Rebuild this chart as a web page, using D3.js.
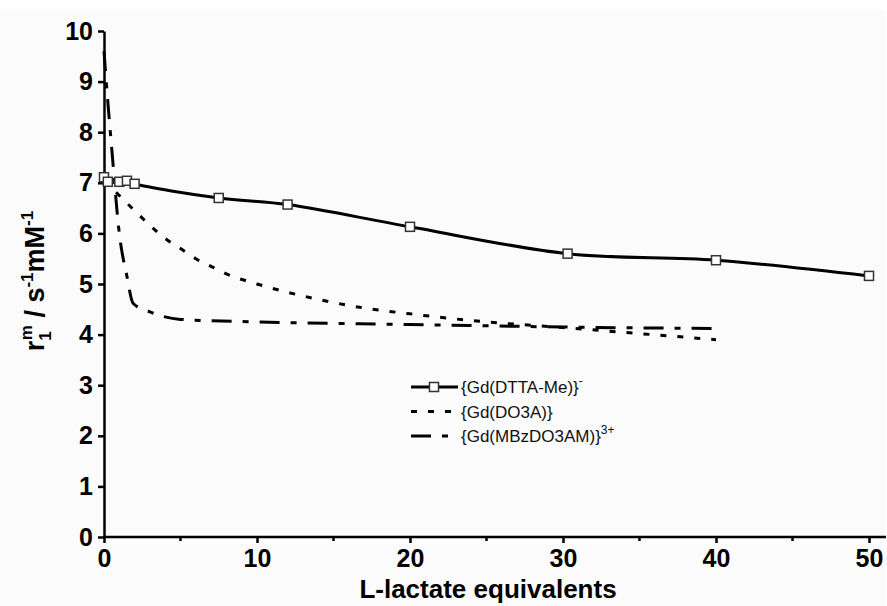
<!DOCTYPE html>
<head>
<meta charset="utf-8">
<style>
  body { margin: 0; background: #ffffff; }
  text { font-family: "Liberation Sans", Arial, sans-serif; fill: #000; }
  .tick text { font-weight: bold; font-size: 25px; }
  .axis path, .axis line { stroke: #000; stroke-width: 2.5px; }
  .legend text { font-size: 17px; font-weight: normal; fill: #111; }
</style>
</head>
<body>
<svg width="887" height="606"></svg>
<script src="https://d3js.org/d3.v7.min.js"></script>
<script>

// {Gd(DTTA-Me)}- (squares)
var dttaX = [0, 0.25, 1, 1.5, 2, 7.5, 12, 20, 30.3, 40, 50];
var dttaY = [7.11, 7.02, 7.02, 7.04, 6.98, 6.70, 6.57, 6.13, 5.60, 5.47, 5.16];

// {Gd(DO3A)} (dotted)
var do3aX = [0, 1, 2, 3, 4, 5, 6, 7, 8, 10, 13.5, 16.7, 20, 25, 30, 35, 40];
var do3aY = [7.05, 6.75, 6.45, 6.16, 5.9, 5.7, 5.5, 5.35, 5.2, 5.0, 4.73, 4.54, 4.41, 4.25, 4.14, 4.02, 3.90];

// {Gd(MBzDO3AM)}3+ (dash-dot)
var mbzX = [0, 0.25, 0.5, 1, 1.5, 1.9, 3, 5, 10, 20, 30, 40];
var mbzY = [9.6, 8.6, 7.7, 6.0, 5.15, 4.62, 4.45, 4.3, 4.25, 4.2, 4.15, 4.12];

var xTicks = [0, 10, 20, 30, 40, 50];
var xMinor = [5, 15, 25, 35, 45];
var yTicks = [0, 1, 2, 3, 4, 5, 6, 7, 8, 9, 10];

var svg = d3.select("svg");

// faint page tone like the scan
svg.append("rect").attr("x", 0).attr("y", 10).attr("width", 886).attr("height", 596).attr("fill", "#fbfbfb");

var x = d3.scaleLinear().domain([0, 50]).range([104, 869]);
var y = d3.scaleLinear().domain([0, 10]).range([537, 31]);

// axes
var xAxis = svg.append("g").attr("class", "axis")
  .attr("transform", "translate(0," + y(0) + ")")
  .call(d3.axisBottom(x).tickValues(xTicks).tickSize(6).tickPadding(6).tickSizeOuter(0));
xAxis.select(".domain").attr("d", "M" + x(0) + ",0H886");

xAxis.selectAll(".minor").data(xMinor).enter().append("line")
  .attr("class", "minor")
  .attr("x1", d => x(d)).attr("x2", d => x(d))
  .attr("y1", 0).attr("y2", 4)
  .attr("stroke", "#000").attr("stroke-width", 2.5);

var yAxis = svg.append("g").attr("class", "axis")
  .attr("transform", "translate(" + x(0) + ",0)")
  .call(d3.axisLeft(y).tickValues(yTicks).tickSize(6).tickPadding(5).tickSizeOuter(0));

// series
function pts(xs, ys) { return xs.map((d, i) => [d, ys[i]]); }

var line = d3.line().x(d => x(d[0])).y(d => y(d[1])).curve(d3.curveMonotoneX);

svg.append("path").datum(pts(do3aX, do3aY))
  .attr("d", line).attr("fill", "none").attr("stroke", "#000")
  .attr("stroke-width", 3).attr("stroke-dasharray", "6,11");

svg.append("path").datum(pts(mbzX, mbzY))
  .attr("d", line).attr("fill", "none").attr("stroke", "#000")
  .attr("stroke-width", 3).attr("stroke-dasharray", "20,11,6,11");

svg.append("path").datum(pts(dttaX, dttaY))
  .attr("d", d3.line().x(d => x(d[0])).y(d => y(d[1])).curve(d3.curveCatmullRom))
  .attr("fill", "none").attr("stroke", "#000").attr("stroke-width", 3);

svg.selectAll(".sq").data(pts(dttaX, dttaY)).enter().append("rect")
  .attr("class", "sq")
  .attr("x", d => x(d[0]) - 4.5).attr("y", d => y(d[1]) - 4.5)
  .attr("width", 9).attr("height", 9)
  .attr("fill", "#fff").attr("stroke", "#333").attr("stroke-width", 1.5);

// axis titles
svg.append("text")
  .attr("x", 488).attr("y", 598)
  .attr("text-anchor", "middle")
  .style("font-weight", "bold").style("font-size", "26px")
  .text("L-lactate equivalents");

var yt = svg.append("text")
  .attr("transform", "translate(44,281) rotate(-90)")
  .attr("text-anchor", "middle")
  .style("font-weight", "bold").style("font-size", "27px");
yt.append("tspan").text("r");
yt.append("tspan").attr("dy", 7).style("font-size", "17px").text("1");
yt.append("tspan").attr("dx", -9).attr("dy", -19).style("font-size", "17px").text("m");
yt.append("tspan").attr("dy", 12).text(" / s");
yt.append("tspan").attr("dy", -11).style("font-size", "17px").text("-1");
yt.append("tspan").attr("dy", 11).text("mM");
yt.append("tspan").attr("dy", -11).style("font-size", "17px").text("-1");

// legend
var legendRows = [
  { label: "{Gd(DTTA-Me)}", sup: "-", dash: null, marker: true },
  { label: "{Gd(DO3A)}", sup: "", dash: "6,11", marker: false },
  { label: "{Gd(MBzDO3AM)}", sup: "3+", dash: "20,11,6,11", marker: false }
];

var legend = svg.append("g").attr("class", "legend");
legendRows.forEach(function (r, i) {
  var ly = 387 + i * 24.5;
  legend.append("line")
    .attr("x1", 411).attr("x2", 458).attr("y1", ly).attr("y2", ly)
    .attr("stroke", "#000").attr("stroke-width", 3)
    .attr("stroke-dasharray", r.dash);
  if (r.marker) {
    legend.append("rect")
      .attr("x", 429.5).attr("y", ly - 4.5).attr("width", 9).attr("height", 9)
      .attr("fill", "#fff").attr("stroke", "#333").attr("stroke-width", 1.5);
  }
  var t = legend.append("text").attr("x", 461).attr("y", ly + 6);
  t.append("tspan").text(r.label);
  if (r.sup) t.append("tspan").attr("dy", -8).style("font-size", "12px").text(r.sup);
});

</script>
</body>
